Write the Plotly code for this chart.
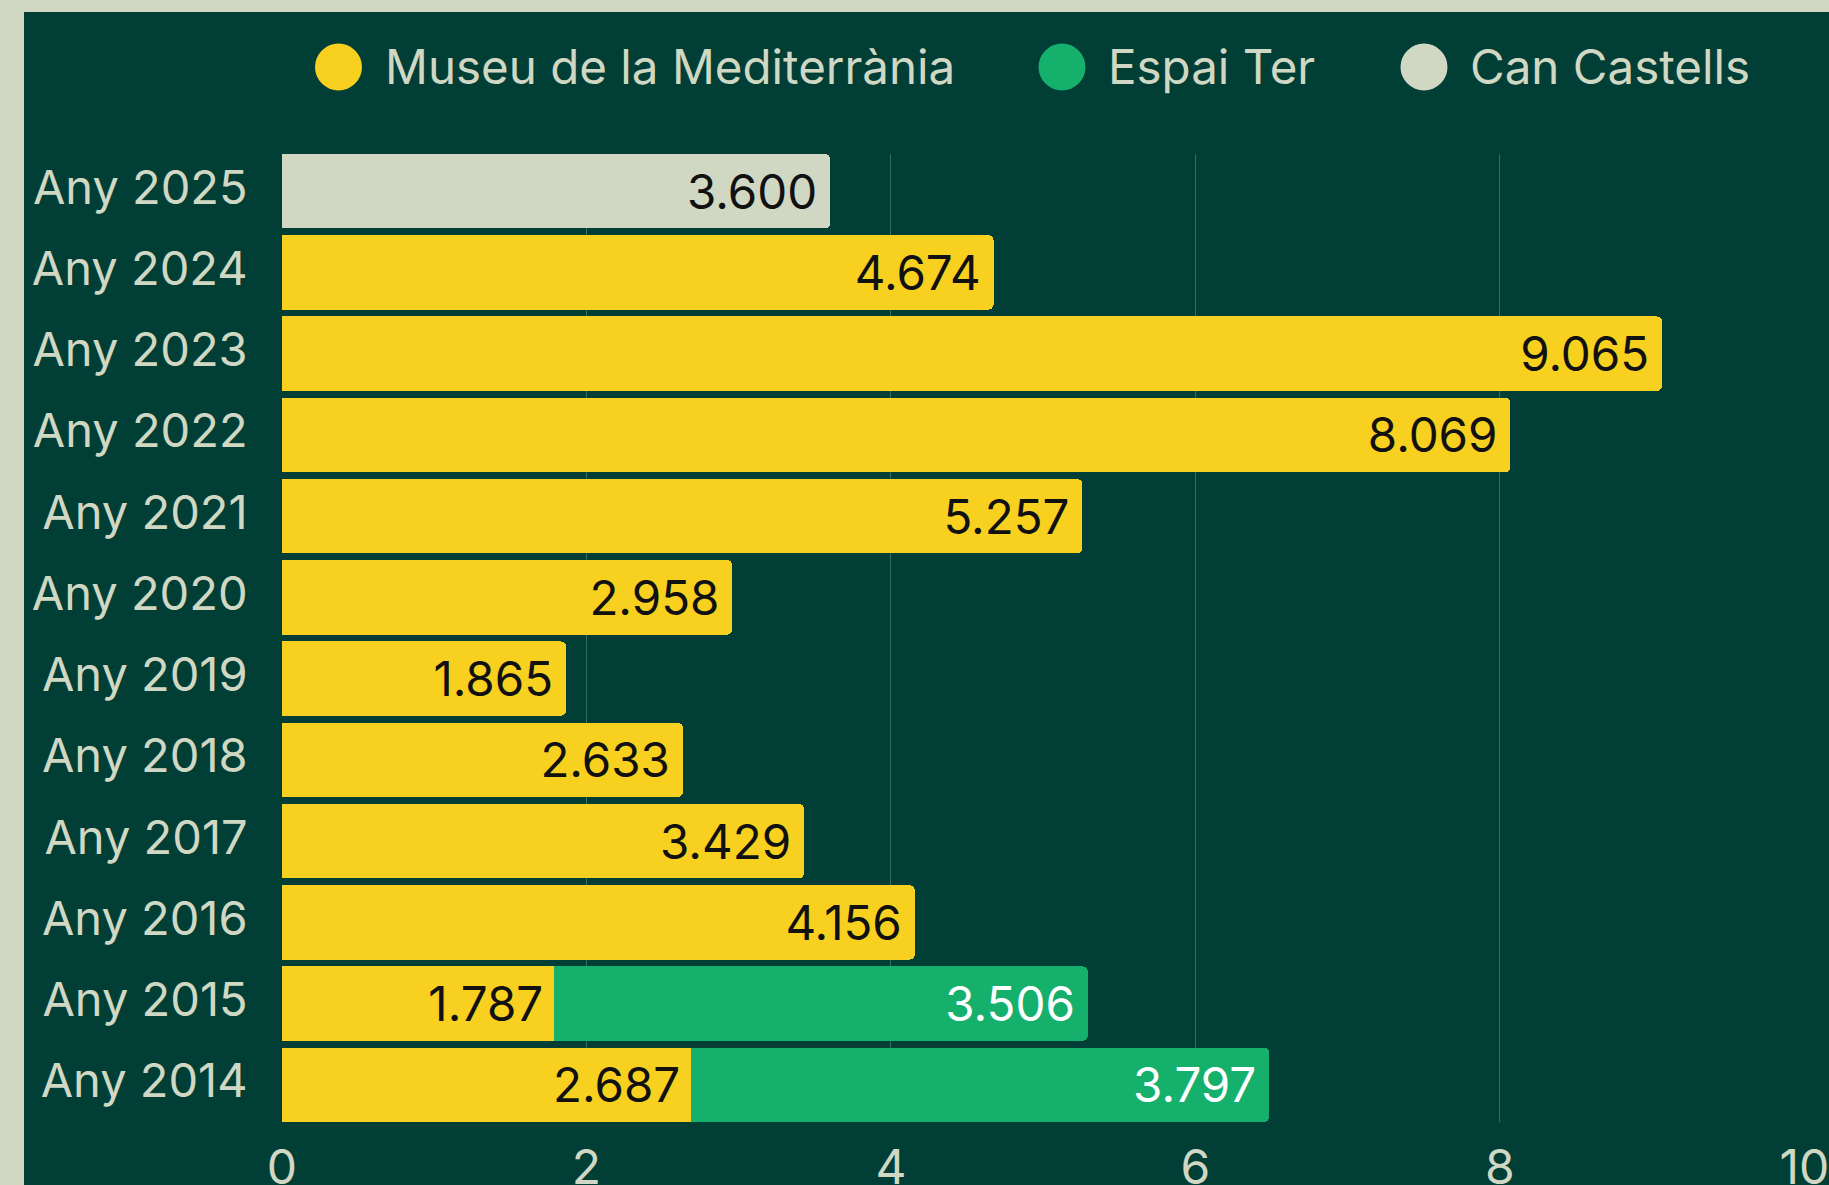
import plotly.graph_objects as go

# ---- data ----
categories = ["Any 2014", "Any 2015", "Any 2016", "Any 2017", "Any 2018", "Any 2019",
              "Any 2020", "Any 2021", "Any 2022", "Any 2023", "Any 2024", "Any 2025"]
series_names = ["Museu de la Mediterrània", "Espai Ter", "Can Castells"]
museu = [2.687, 1.787, 4.156, 3.429, 2.633, 1.865, 2.958, 5.257, 8.069, 9.065, 4.674, None]
espai_ter = [3.797, 3.506, None, None, None, None, None, None, None, None, None, None]
can_castells = [None, None, None, None, None, None, None, None, None, None, None, 3.600]
x_ticks = [0, 2, 4, 6, 8, 10]

# ---- style ----
W, H = 1829, 1185
ML, MR, MT, MB = 282, 24, 154, 63
PW, PH = W - ML - MR, H - MT - MB
DARK = "#013F36"
LIGHT = "#D0D8C3"
YELLOW = "#F7D020"
GREEN = "#15B06B"
FONT = "Inter"
colors = [YELLOW, GREEN, LIGHT]
text_colors = ["#111111", "#FFFFFF", "#111111"]
series = [museu, espai_ter, can_castells]
GAP = 0.085


def px_x(p):
    return (p - ML) / PW


def px_y(p):
    return (H - MB - p) / PH


def fmt(v):
    return "" if v is None else f"{v:.3f}\u2006"


fig = go.Figure()
for name, vals, col, tcol in zip(series_names, series, colors, text_colors):
    fig.add_trace(go.Bar(
        y=categories, x=vals, name=name, orientation="h",
        marker=dict(color=col, line=dict(width=0)),
        text=[fmt(v) for v in vals], textposition="inside", insidetextanchor="end",
        insidetextfont=dict(family=FONT, size=47.5, color=tcol),
        showlegend=False, cliponaxis=False,
    ))

shapes = [
    dict(type="rect", xref="paper", yref="paper", x0=px_x(-5), x1=px_x(24),
         y0=px_y(H + 5), y1=px_y(-5), fillcolor=LIGHT, line=dict(width=0), layer="below"),
    dict(type="rect", xref="paper", yref="paper", x0=px_x(-5), x1=px_x(W + 5),
         y0=px_y(12), y1=px_y(-5), fillcolor=LIGHT, line=dict(width=0), layer="below"),
]
annotations = []
legend_centers = [338.5, 1062, 1424]
R = 23.5
LY = 67
for name, col, cx in zip(series_names, colors, legend_centers):
    shapes.append(dict(type="circle", xref="paper", yref="paper",
                       x0=px_x(cx - R), x1=px_x(cx + R), y0=px_y(LY + R), y1=px_y(LY - R),
                       fillcolor=col, line=dict(width=0)))
    annotations.append(dict(text=name, xref="paper", yref="paper", x=px_x(cx + 44), y=px_y(LY - 1),
                            xanchor="left", yanchor="middle", showarrow=False,
                            font=dict(family=FONT, size=47.5, color=LIGHT)))

fig.update_layout(
    width=W, height=H,
    margin=dict(l=ML, r=MR, t=MT, b=MB, pad=0, autoexpand=False),
    paper_bgcolor=DARK, plot_bgcolor=DARK,
    barmode="stack", bargap=GAP, barcornerradius=5,
    shapes=shapes, annotations=annotations,
    font=dict(family=FONT, color=LIGHT),
    xaxis=dict(range=[0, 10.004], tickvals=x_ticks, ticktext=[str(t) for t in x_ticks],
               automargin=False, ticklabeloverflow="allow",
               showgrid=True, gridcolor="rgba(208,216,195,0.28)", gridwidth=1,
               zeroline=False, showline=False, ticks="outside", ticklen=3, tickcolor="rgba(0,0,0,0)",
               tickfont=dict(family=FONT, size=48, color=LIGHT)),
    yaxis=dict(categoryorder="array", categoryarray=categories,
               range=[-0.5 + GAP / 2, len(categories) - 0.5 - GAP / 2],
               automargin=False,
               showgrid=False, zeroline=False, showline=False,
               ticks="outside", ticklen=0, ticklabelstandoff=24, ticklabelshift=-4,
               tickfont=dict(family=FONT, size=47, color=LIGHT)),
    uniformtext=dict(minsize=8, mode="show"),
)

fig.write_html("out.html", config={"displayModeBar": False},
               post_script="document.body.style.margin='0';document.body.style.overflow='hidden';")
